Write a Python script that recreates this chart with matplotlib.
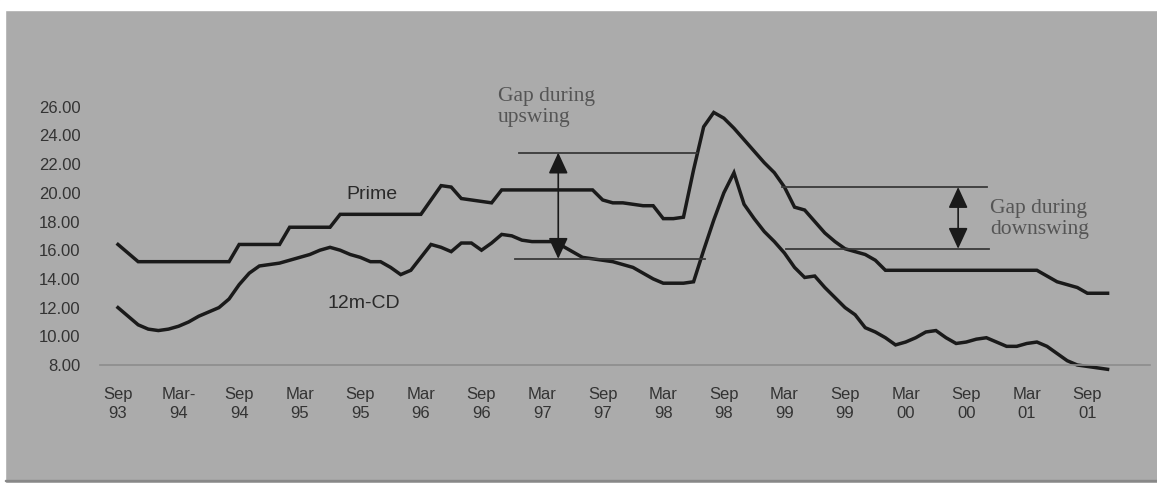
import numpy as np
import matplotlib.pyplot as plt
from matplotlib.patches import Rectangle

# monthly data, Sep 93 .. Nov 01
prime = [16.4, 15.8, 15.2, 15.2, 15.2, 15.2, 15.2, 15.2, 15.2, 15.2,
         15.2, 15.2, 16.4, 16.4, 16.4, 16.4, 16.4, 17.6, 17.6, 17.6,
         17.6, 17.6, 18.5, 18.5, 18.5, 18.5, 18.5, 18.5, 18.5, 18.5,
         18.5, 19.5, 20.5, 20.4, 19.6, 19.5, 19.4, 19.3, 20.2, 20.2,
         20.2, 20.2, 20.2, 20.2, 20.2, 20.2, 20.2, 20.2, 19.5, 19.3,
         19.3, 19.2, 19.1, 19.1, 18.2, 18.2, 18.3, 21.6, 24.6, 25.6,
         25.2, 24.5, 23.7, 22.9, 22.1, 21.4, 20.4, 19.0, 18.8, 18.0,
         17.2, 16.6, 16.1, 15.9, 15.7, 15.3, 14.6, 14.6, 14.6, 14.6,
         14.6, 14.6, 14.6, 14.6, 14.6, 14.6, 14.6, 14.6, 14.6, 14.6,
         14.6, 14.6, 14.2, 13.8, 13.6, 13.4, 13.0, 13.0, 13.0]
cd = [12.0, 11.4, 10.8, 10.5, 10.4, 10.5, 10.7, 11.0, 11.4, 11.7,
      12.0, 12.6, 13.6, 14.4, 14.9, 15.0, 15.1, 15.3, 15.5, 15.7,
      16.0, 16.2, 16.0, 15.7, 15.5, 15.2, 15.2, 14.8, 14.3, 14.6,
      15.5, 16.4, 16.2, 15.9, 16.5, 16.5, 16.0, 16.5, 17.1, 17.0,
      16.7, 16.6, 16.6, 16.6, 16.3, 15.9, 15.5, 15.4, 15.3, 15.2,
      15.0, 14.8, 14.4, 14.0, 13.7, 13.7, 13.7, 13.8, 16.0, 18.1,
      20.0, 21.4, 19.2, 18.2, 17.3, 16.6, 15.8, 14.8, 14.1, 14.2,
      13.4, 12.7, 12.0, 11.5, 10.6, 10.3, 9.9, 9.4, 9.6, 9.9,
      10.3, 10.4, 9.9, 9.5, 9.6, 9.8, 9.9, 9.6, 9.3, 9.3,
      9.5, 9.6, 9.3, 8.8, 8.3, 8.0, 7.9, 7.8, 7.7]
tick_labels = ['Sep\n93', 'Mar-\n94', 'Sep\n94', 'Mar\n95', 'Sep\n95', 'Mar\n96',
               'Sep\n96', 'Mar\n97', 'Sep\n97', 'Mar\n98', 'Sep\n98', 'Mar\n99',
               'Sep\n99', 'Mar\n00', 'Sep\n00', 'Mar\n01', 'Sep\n01']
y_ticks = [8, 10, 12, 14, 16, 18, 20, 22, 24, 26]

# gap markers: (start month, end month, level)
up_gap = [(39.7, 57.3, 22.8), (39.3, 58.1, 15.4)]
down_gap = [(65.8, 86.1, 20.4), (66.2, 86.3, 16.1)]

BG = '#ababab'
INK = '#1a1a1a'
TXT = '#333333'

fig = plt.figure(figsize=(11.57, 4.83), dpi=100, facecolor=BG)
ax = fig.add_axes([100 / 1157, 1 - 365 / 483, 1050 / 1157, 287 / 483])
ax.set_facecolor(BG)

# white scan margins
fig.add_artist(Rectangle((0, 1 - 10 / 483), 1, 10 / 483, transform=fig.transFigure,
                         color='white', zorder=0))
fig.add_artist(Rectangle((0, 0), 5 / 1157, 1, transform=fig.transFigure,
                         color='white', zorder=0))
fig.add_artist(Rectangle((5 / 1157, 2 / 483), 1, 1.5 / 483, transform=fig.transFigure,
                         color='#888888', zorder=0))

x = np.arange(len(prime))
ax.plot(x, prime, color=INK, lw=2.5, solid_joinstyle='miter', clip_on=False)
ax.plot(x, cd, color=INK, lw=2.5, solid_joinstyle='miter', clip_on=False)

ax.set_xlim(-1.78, 102.2)
ax.set_ylim(8, 28)
ax.set_xticks(np.arange(0, 97, 6))
ax.set_xticklabels(tick_labels, fontsize=12, color=TXT, linespacing=1.3,
                   fontfamily='Liberation Sans')
ax.set_yticks(y_ticks)
ax.set_yticklabels([f'{v:.2f}' for v in y_ticks], fontsize=12, color=TXT,
                   fontfamily='Liberation Sans')
ax.tick_params(length=0)
ax.tick_params(axis='x', pad=16)
ax.tick_params(axis='y', pad=14)
for s in ['top', 'right', 'left']:
    ax.spines[s].set_visible(False)
ax.spines['bottom'].set_color('#8c8c8c')
ax.spines['bottom'].set_linewidth(1.2)

ax.text(22.6, 19.9, 'Prime', fontsize=14, color='#2a2a2a',
        fontfamily='Liberation Sans', va='center')
ax.text(20.7, 12.3, '12m-CD', fontsize=14, color='#2a2a2a',
        fontfamily='Liberation Sans', va='center')

# gap lines and arrows
for x0, x1, lev in up_gap + down_gap:
    ax.plot([x0, x1], [lev, lev], color='#3a3a3a', lw=1.3)

arrow_kw = dict(arrowstyle='<|-|>,head_length=1.3,head_width=0.6',
                color='#1a1a1a', lw=1.2, shrinkA=0, shrinkB=0)
ax.annotate('', xy=(43.6, up_gap[0][2]), xytext=(43.6, up_gap[1][2]),
            arrowprops=arrow_kw)
ax.annotate('', xy=(83.2, down_gap[0][2]), xytext=(83.2, down_gap[1][2]),
            arrowprops=arrow_kw)

ax.text(37.6, 27.4, 'Gap during\nupswing', fontsize=15.5, color='#555555',
        fontfamily='Liberation Serif', va='top', ha='left', linespacing=1.15)
ax.text(86.4, 18.2, 'Gap during\ndownswing', fontsize=15.5, color='#555555',
        fontfamily='Liberation Serif', va='center', ha='left', linespacing=1.15)

fig.savefig('out.png', dpi=100, facecolor=BG)
